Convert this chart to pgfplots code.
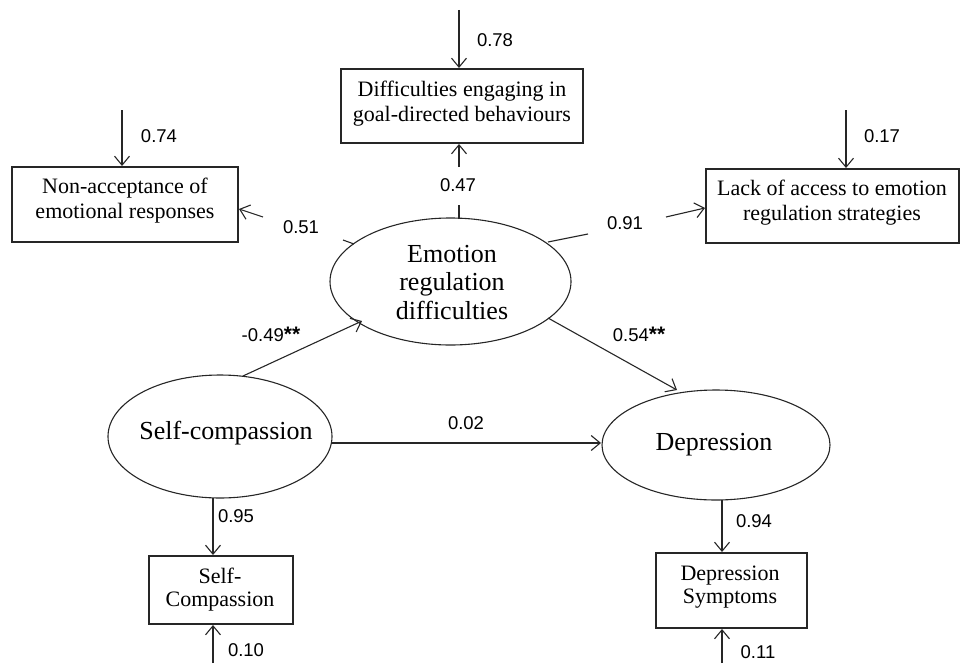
\documentclass[border=0pt]{standalone}
\usepackage{fontspec}
\setmainfont{Liberation Serif}
\newfontfamily\numfont{Liberation Sans}
\usepackage{pgfplots}
\pgfplotsset{compat=1.18}
\usetikzlibrary{arrows.meta}
\newcommand{\st}{{\fontsize{21}{20}\selectfont\bfseries **}}
\tikzset{
  arr/.style={line width=1.1pt, black!85, -{Straight Barb[length=9pt,width=15pt,line width=1.1pt]}},
  seg/.style={line width=1.1pt, black!85},
  lab/.style={font=\numfont\fontsize{18.5}{20}\selectfont, inner sep=0pt},
  box/.style={font=\fontsize{22}{25}\selectfont, align=center, inner sep=0pt},
  sbox/.style={font=\fontsize{22}{23}\selectfont, align=center, inner sep=0pt},
  ell/.style={font=\fontsize{26}{28.5}\selectfont, align=center, inner sep=0pt}}
\begin{document}
\begin{tikzpicture}
\begin{axis}[hide axis, x=1pt, y=1pt, y dir=reverse, xmin=0, xmax=960, ymin=0, ymax=663,
  scale only axis, clip=false]
\addplot[draw=none] coordinates {(0,0) (960,663)};
% boxes
\draw[seg] (axis cs:341,69) rectangle (axis cs:583,143);
\draw[seg] (axis cs:12,167) rectangle (axis cs:238,242);
\draw[seg] (axis cs:706,169) rectangle (axis cs:959,243);
\draw[seg] (axis cs:149,556) rectangle (axis cs:293,624);
\draw[seg] (axis cs:656,553) rectangle (axis cs:807,628);
% ellipses
\draw[seg] (axis cs:450.5,281.5) ellipse [x radius=120.5pt, y radius=63.5pt];
\draw[seg] (axis cs:220,436.5) ellipse [x radius=112pt, y radius=61.5pt];
\draw[seg] (axis cs:716,445) ellipse [x radius=114pt, y radius=55pt];
% texts
\node[box] at (axis cs:462,103.5) {Difficulties engaging in\\goal-directed behaviours};
\node[box] at (axis cs:125,201) {Non-acceptance of\\emotional responses};
\node[box] at (axis cs:832,203) {Lack of access to emotion\\regulation strategies};
\node[sbox] at (axis cs:220,589.5) {Self-\\Compassion};
\node[sbox] at (axis cs:730,587) {Depression\\Symptoms};
\node[ell] at (axis cs:452,282.5) {Emotion\\regulation\\difficulties};
\node[ell] at (axis cs:226,433) {Self-compassion};
\node[ell] at (axis cs:714,445) {Depression};
% arrows
\addplot[arr] coordinates {(459,10) (459,68)};
\addplot[arr] coordinates {(122,110) (122,166)};
\addplot[arr] coordinates {(846,110) (846,168)};
\addplot[seg] coordinates {(459,219) (459,205)};
\addplot[arr] coordinates {(459,167) (459,144)};
\addplot[seg] coordinates {(354,244) (343,240)};
\addplot[arr] coordinates {(263,217) (239,209)};
\addplot[seg] coordinates {(548,242) (588,234)};
\addplot[arr] coordinates {(666,217) (705,208)};
\addplot[arr] coordinates {(243,376) (362,321)};
\addplot[arr] coordinates {(548,318) (677,390)};
\addplot[arr] coordinates {(332,443) (601,443)};
\addplot[arr] coordinates {(213,498) (213,555)};
\addplot[arr] coordinates {(213,663) (213,625)};
\addplot[arr] coordinates {(722,500) (722,552)};
\addplot[arr] coordinates {(722,663) (722,629)};
% labels
\node[lab] at (axis cs:495,40) {0.78};
\node[lab] at (axis cs:159,136) {0.74};
\node[lab] at (axis cs:882,136) {0.17};
\node[lab] at (axis cs:458,185) {0.47};
\node[lab] at (axis cs:301,227) {0.51};
\node[lab] at (axis cs:625,223) {0.91};
\node[lab] at (axis cs:271,334) {-0.49\st};
\node[lab] at (axis cs:639,334) {0.54\st};
\node[lab] at (axis cs:466,423) {0.02};
\node[lab] at (axis cs:236,516) {0.95};
\node[lab] at (axis cs:246,650) {0.10};
\node[lab] at (axis cs:754,521) {0.94};
\node[lab] at (axis cs:758,652) {0.11};
\end{axis}
\end{tikzpicture}
\end{document}
